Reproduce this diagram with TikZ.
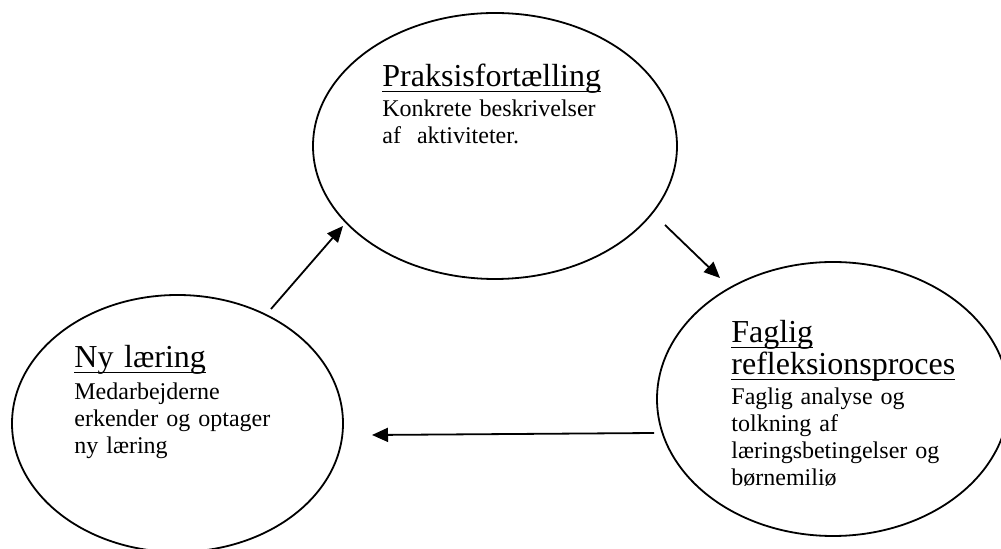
\documentclass[tikz,border=0pt]{standalone}
\usepackage{fontspec}
\setmainfont{Liberation Serif}
\usetikzlibrary{shapes.geometric,arrows.meta}
\newsavebox\ulbox
\newcommand\ulword[1]{\leavevmode\sbox\ulbox{#1}\rlap{\rule[-2.6pt]{\wd\ulbox}{0.8pt}}\usebox\ulbox}

\begin{document}
\begin{tikzpicture}[x=0.5pt,y=-0.5pt,
roundnode/.style={ellipse, draw=black, line width=0.9pt, inner sep=0pt},
headtext/.style={anchor=base west, inner sep=0pt, text width=110pt, align=left, font=\fontsize{16}{16}\selectfont},
bodytext/.style={anchor=base west, inner sep=0pt, text width=120pt, align=left, font=\fontsize{12}{13.4}\selectfont},
flowarrow/.style={line width=0.9pt, -{Triangle[length=8pt,width=7pt]}},
]
\useasboundingbox (0,0) rectangle (1001,549);
\clip (0,0) rectangle (1001,549);

% the three stages
\node[roundnode, minimum width=182pt, minimum height=133pt] (praksis) at (495,146) {};
\node[roundnode, minimum width=165.5pt, minimum height=128.5pt] (laering) at (177.5,423.5) {};
\node[roundnode, minimum width=176pt, minimum height=137pt] (refleksion) at (833,399) {};

% texts
\node[headtext] (praksishead) at (382,87) {\ulword{Praksisfortælling}};
\node[bodytext] (praksisbody) at (382,117) {Konkrete beskrivelser\\af\ \ aktiviteter.};

\node[headtext] (laeringhead) at (74,368) {\ulword{Ny læring}};
\node[bodytext] (laeringbody) at (74,400) {Medarbejderne\\erkender og optager\\ny læring};

\node[headtext] (refleksionhead) at (731,343) {\ulword{Faglig}\\\ulword{refleksionsproces}};
\node[bodytext] (refleksionbody) at (731,405) {Faglig analyse og\\tolkning af\\læringsbetingelser og\\børnemiliø};

% arrows
\coordinate (a1s) at (271,309);
\coordinate (a1e) at (343,226);
\coordinate (a2s) at (665,225);
\coordinate (a2e) at (720,278);
\coordinate (a3s) at (654,433);
\coordinate (a3e) at (372,435);
\draw[flowarrow] (a1s) -- (a1e);
\draw[flowarrow] (a2s) -- (a2e);
\draw[flowarrow] (a3s) -- (a3e);
\end{tikzpicture}
\end{document}
